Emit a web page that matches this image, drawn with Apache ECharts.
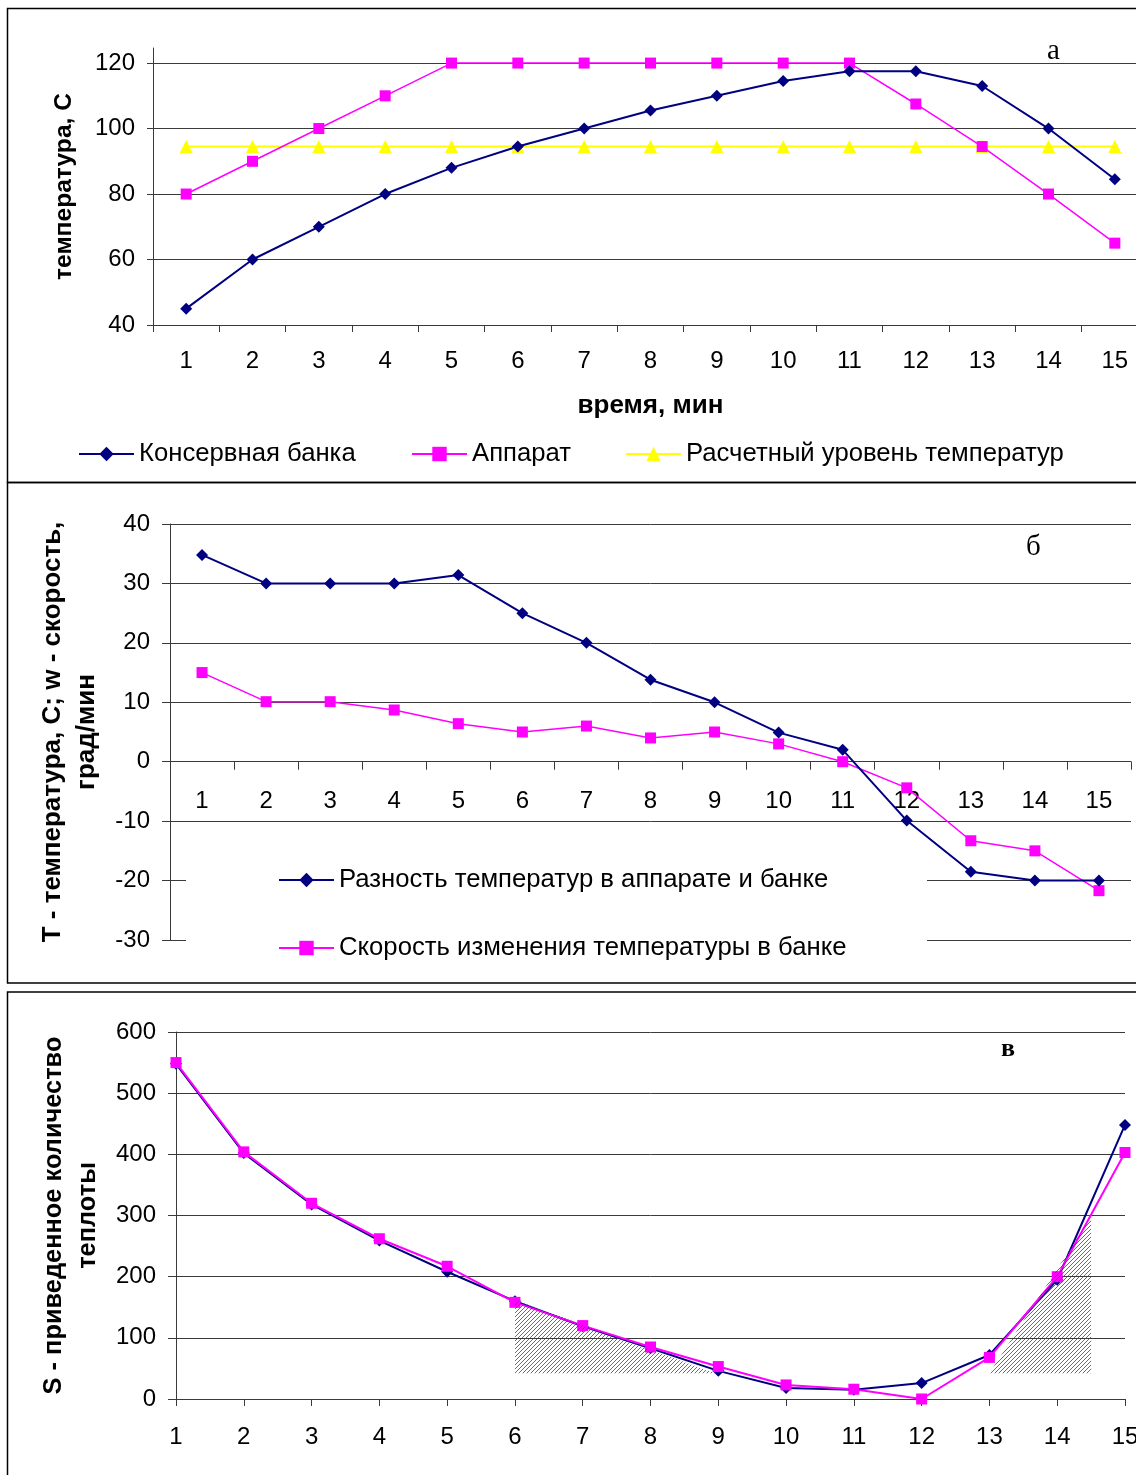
<!DOCTYPE html>
<html>
<head>
<meta charset="utf-8">
<script src="https://cdn.jsdelivr.net/npm/echarts@6/dist/echarts.min.js"></script>
<style>
html,body{margin:0;padding:0;background:#fff;}
#chart{width:1136px;height:1475px;}
</style>
</head>
<body>
<div id="chart"></div>
<script>
// ---------- DATA ----------
const categories = ['1','2','3','4','5','6','7','8','9','10','11','12','13','14','15'];
const minutesC = [1,2,3,4,5,6,7,8,9,10,11,12,13,14,15];

// Panel а
const canA      = [45, 60, 70, 80, 88, 94.5, 100, 105.5, 110, 114.5, 117.5, 117.5, 113, 100, 84.5];
const apparatA  = [80, 90, 100, 110, 120, 120, 120, 120, 120, 120, 120, 107.5, 94.5, 80, 65];
const designA   = [94.5, 94.5, 94.5, 94.5, 94.5, 94.5, 94.5, 94.5, 94.5, 94.5, 94.5, 94.5, 94.5, 94.5, 94.5];
const ticksA    = [40, 60, 80, 100, 120];

// Panel б
const diffB = [34.8, 30, 30, 30, 31.4, 25, 20, 13.8, 10, 4.9, 2, -9.9, -18.5, -20, -20];
const rateB = [15, 10.1, 10.1, 8.7, 6.4, 5, 6, 4, 5, 3, 0, -4.4, -13.3, -15, -21.7];
const rangeB = [-30, 40];

// Panel в
const canC = [548, 402, 318, 259, 208, 160, 119, 83, 46, 18, 15, 26, 72, 195, 448];
const appC = [550, 404, 320, 262, 217, 158, 120, 85, 53, 23, 16, 0, 68, 200, 403];
const hatchPolys = [
  [[6, 162], [8.95, 42], [6, 42]],
  [[13, 42], [14.5, 298], [14.5, 42]]
];

const NAMES_A = ['Консервная банка', 'Аппарат', 'Расчетный уровень температур'];
const NAMES_B = ['Разность температур в аппарате и банке', 'Скорость изменения температуры в банке'];

// ---------- STYLE ----------
const FONT = '"Liberation Sans", Arial, sans-serif';
const SERIF = '"Liberation Serif", "Times New Roman", serif';
const NAVY = '#000080', MAG = '#FF00FF', YEL = '#FFFF00';
const GRIDC = '#3a3a3a';

// hatch pattern
const pc = document.createElement('canvas');
pc.width = 4; pc.height = 4;
const pctx = pc.getContext('2d');
pctx.strokeStyle = 'rgba(60,60,60,0.75)';
pctx.lineWidth = 1;
pctx.beginPath();
pctx.moveTo(0, 4); pctx.lineTo(4, 0);
pctx.moveTo(-1, 1); pctx.lineTo(1, -1);
pctx.moveTo(3, 5); pctx.lineTo(5, 3);
pctx.stroke();

const lbl = {color: '#000', fontSize: 24, fontFamily: FONT};
const nameStyle = (fs) => ({color: '#000', fontSize: fs, fontWeight: 'bold', fontFamily: FONT});
const axLine = {show: true, lineStyle: {color: GRIDC, width: 1}};
const split = {show: true, lineStyle: {color: GRIDC, width: 1}};
const legText = {fontSize: 25.7, color: '#000', fontFamily: FONT};

function lineSeries(name, data, color, symbol, size, xi, yi, lw) {
  return {
    name: name, type: 'line', data: data, xAxisIndex: xi, yAxisIndex: yi,
    symbol: symbol, symbolSize: size, showAllSymbol: true,
    lineStyle: {color: color, width: lw},
    itemStyle: {color: color, borderWidth: 0},
    emphasis: {disabled: true}, z: 2
  };
}
function leg(name, left, top) {
  return {data: [name], left: left, top: top, padding: 0, itemWidth: 55, itemHeight: 18,
    itemGap: 0, textStyle: legText, selectedMode: false};
}

// grid B geometry, axis offset so the category axis sits at value 0
const gridB = {left: 170, right: 5, top: 524, height: 416};
const offsetB = -gridB.height * (0 - rangeB[0]) / (rangeB[1] - rangeB[0]);

const chart = echarts.init(document.getElementById('chart'), null, {renderer: 'canvas'});

const option = {
  animation: false,
  backgroundColor: '#fff',
  textStyle: {fontFamily: FONT},
  grid: [
    {left: 153, width: 995, top: 48, height: 277, containLabel: false, outerBoundsMode: 'none'},
    {left: gridB.left, right: gridB.right, top: gridB.top, height: gridB.height, containLabel: false, outerBoundsMode: 'none'},
    {left: 176, width: 949, top: 1032, height: 367, containLabel: false, outerBoundsMode: 'none'}
  ],
  xAxis: [
    {
      gridIndex: 0, type: 'category', data: categories, boundaryGap: true,
      axisLine: axLine, axisTick: {show: true, length: 7, lineStyle: {color: GRIDC}},
      axisLabel: Object.assign({margin: 24, interval: 0}, lbl),
      splitLine: {show: false},
      name: 'время, мин', nameLocation: 'middle', nameGap: 68, nameTextStyle: nameStyle(26)
    },
    {
      gridIndex: 1, type: 'category', data: categories, boundaryGap: true,
      position: 'bottom', offset: offsetB,
      axisLine: Object.assign({onZero: false}, axLine),
      axisTick: {show: true, length: 8, lineStyle: {color: GRIDC}},
      axisLabel: Object.assign({margin: 28, interval: 0}, lbl),
      splitLine: {show: false}
    },
    {
      gridIndex: 2, type: 'value', min: 1, max: 15, interval: 1,
      axisLine: axLine, axisTick: {show: true, length: 7, lineStyle: {color: GRIDC}},
      axisLabel: Object.assign({margin: 26}, lbl),
      splitLine: {show: false}
    }
  ],
  yAxis: [
    {
      gridIndex: 0, type: 'value', min: 40, max: 124.6, interval: 20,
      axisLine: axLine,
      axisTick: {show: true, length: 6, lineStyle: {color: GRIDC}, customValues: ticksA},
      axisLabel: Object.assign({margin: 18, customValues: ticksA}, lbl),
      splitLine: split,
      name: 'температура, С', nameLocation: 'middle', nameGap: 76, nameTextStyle: nameStyle(24.6)
    },
    {
      gridIndex: 1, type: 'value', min: rangeB[0], max: rangeB[1], interval: 10,
      axisLine: axLine, axisTick: {show: true, length: 8, lineStyle: {color: GRIDC}},
      axisLabel: Object.assign({margin: 20}, lbl),
      splitLine: split,
      name: 'Т - температура, С; w - скорость,\nград/мин', nameLocation: 'middle', nameGap: 66,
      nameTextStyle: Object.assign({lineHeight: 34, align: 'center'}, nameStyle(26))
    },
    {
      gridIndex: 2, type: 'value', min: 0, max: 600, interval: 100,
      axisLine: axLine, axisTick: {show: true, length: 8, lineStyle: {color: GRIDC}},
      axisLabel: Object.assign({margin: 20}, lbl),
      splitLine: split,
      name: 'S - приведенное количество\nтеплоты', nameLocation: 'middle', nameGap: 71,
      nameTextStyle: Object.assign({lineHeight: 34, align: 'center'}, nameStyle(25.4))
    }
  ],
  legend: [
    leg(NAMES_A[0], 78, 441),
    leg(NAMES_A[1], 411, 441),
    leg(NAMES_A[2], 625, 441),
    leg(NAMES_B[0], 278, 867),
    leg(NAMES_B[1], 278, 935)
  ],
  series: [
    lineSeries(NAMES_A[2], designA, YEL, 'triangle', 13, 0, 0, 2),
    lineSeries(NAMES_A[1], apparatA, MAG, 'rect', 11, 0, 0, 1.5),
    lineSeries(NAMES_A[0], canA, NAVY, 'diamond', 12, 0, 0, 2),

    lineSeries(NAMES_B[1], rateB, MAG, 'rect', 11, 1, 1, 1.5),
    lineSeries(NAMES_B[0], diffB, NAVY, 'diamond', 12, 1, 1, 2),

    lineSeries('S банка', minutesC.map((m, i) => [m, canC[i]]), NAVY, 'diamond', 12, 2, 2, 2),
    lineSeries('S аппарат', minutesC.map((m, i) => [m, appC[i]]), MAG, 'rect', 11, 2, 2, 2),
    {
      type: 'custom', name: 'hatch', xAxisIndex: 2, yAxisIndex: 2, z: 3,
      data: hatchPolys.map(p => p[0]),
      encode: {x: 0, y: 1},
      silent: true,
      renderItem: function (params, api) {
        const poly = hatchPolys[params.dataIndex];
        const pts = poly.map(p => api.coord(p));
        return {
          type: 'polygon',
          shape: {points: pts},
          style: {fill: {image: pc, repeat: 'repeat'}, stroke: null}
        };
      }
    }
  ],
  graphic: [
    {type: 'rect', shape: {x: 7.5, y: 8.5, width: 1140, height: 474}, style: {fill: null, stroke: '#000', lineWidth: 1.5}, z: 10, silent: true},
    {type: 'rect', shape: {x: 7.5, y: 482.5, width: 1140, height: 500.5}, style: {fill: null, stroke: '#000', lineWidth: 1.5}, z: 10, silent: true},
    {type: 'rect', shape: {x: 7.5, y: 992, width: 1140, height: 500}, style: {fill: null, stroke: '#000', lineWidth: 1.5}, z: 10, silent: true},
    {type: 'rect', shape: {x: 186, y: 849, width: 741, height: 128}, style: {fill: '#fff', stroke: null}, z: 1, silent: true},
    {type: 'text', left: 1047, top: 37, style: {text: 'а', fontSize: 29, fontFamily: SERIF, fill: '#000'}, z: 10},
    {type: 'text', left: 1026, top: 533, style: {text: 'б', fontSize: 29, fontFamily: SERIF, fill: '#000'}, z: 10},
    {type: 'text', left: 1001, top: 1036, style: {text: 'в', fontSize: 26, fontWeight: 'bold', fontFamily: SERIF, fill: '#000'}, z: 10}
  ]
};

chart.setOption(option);
</script>
</body>
</html>
